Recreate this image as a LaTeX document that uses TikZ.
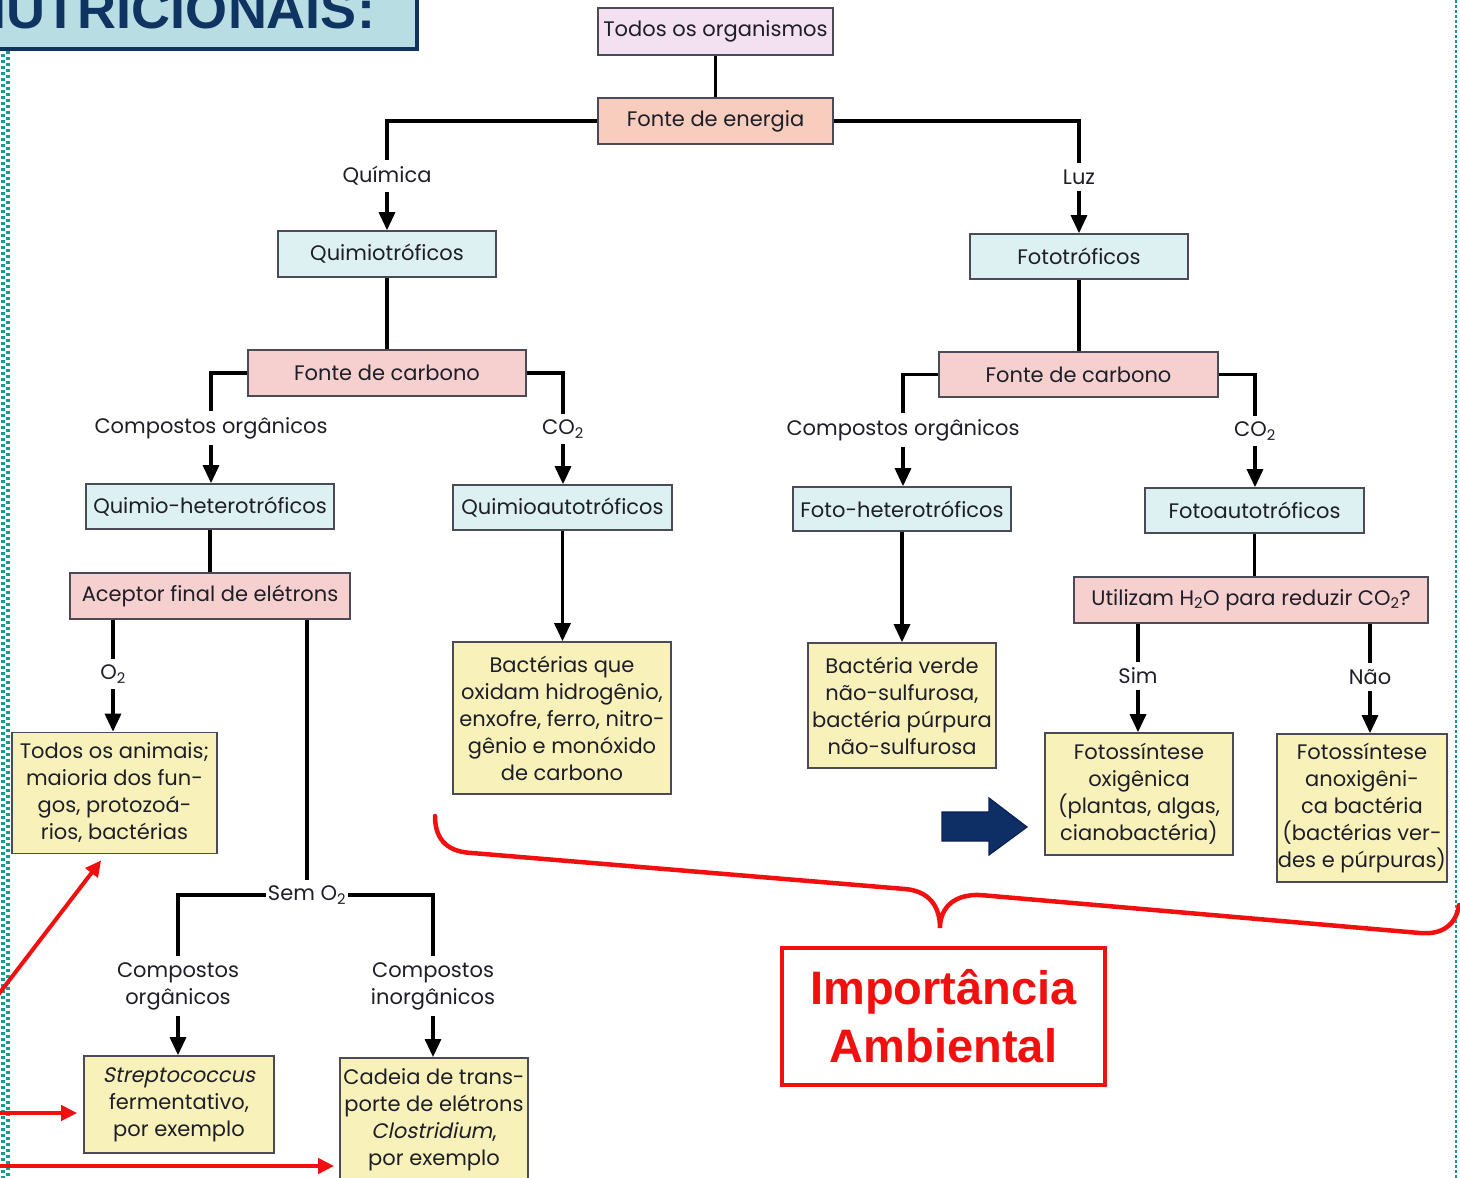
\documentclass[tikz,border=0pt]{standalone}
\usepackage{fontspec}
\setmainfont{Poppins}[AutoFakeSlant=0.2]
\newfontfamily\headfont{Liberation Sans}
\usetikzlibrary{arrows.meta,calc}

\definecolor{ink}{HTML}{1E1E28}
\definecolor{boxline}{HTML}{4A4A58}
\definecolor{lilac}{HTML}{F3E0F0}
\definecolor{salmon}{HTML}{F8CDBE}
\definecolor{pinkb}{HTML}{F6D0CF}
\definecolor{cyanb}{HTML}{DDF1F3}
\definecolor{yellowb}{HTML}{F8F2BA}
\definecolor{redline}{HTML}{F01010}
\definecolor{navy}{HTML}{0E2F66}
\definecolor{navydark}{HTML}{0A1F55}
\definecolor{titlebg}{HTML}{B8DDE2}
\definecolor{titleink}{HTML}{103462}
\definecolor{tealdot}{HTML}{1A9893}

\newcommand\diagfont{\fontsize{21}{27}\selectfont}

\begin{document}
\begin{tikzpicture}[x=1pt,y=-1pt,
  box/.style={draw=boxline, line width=1.6pt, inner sep=0pt, align=center,
              text=ink, font=\diagfont},
  lilacbox/.style={box, fill=lilac},
  salmonbox/.style={box, fill=salmon},
  pinkbox/.style={box, fill=pinkb},
  cyanbox/.style={box, fill=cyanb},
  yellowbox/.style={box, fill=yellowb},
  lab/.style={inner xsep=3pt, inner ysep=6pt, align=center, text=ink, font=\diagfont},
  conn/.style={line width=3.2pt, draw=black},
  arr/.style={conn, -{Triangle[length=18pt,width=16pt]}},
  redarr/.style={line width=4pt, draw=redline, -{Triangle[length=16pt,width=15pt]}}]

\useasboundingbox (0,0) rectangle (1460,1178);
\clip (0,0) rectangle (1460,1178);

% page borders
\draw[tealdot, line width=4pt, dash pattern=on 3pt off 3pt] (2.5,0) -- (2.5,1178);
\draw[tealdot, line width=4pt, dash pattern=on 3pt off 3pt, dash phase=3pt] (8,0) -- (8,1178);
\draw[tealdot, line width=2.5pt, dash pattern=on 3pt off 2pt] (1456,0) -- (1456,1178);

% heading
\node[draw=titleink, line width=4.5pt, fill=titlebg, outer sep=0pt, anchor=south east,
      inner xsep=42pt, inner ysep=20pt, text=titleink,
      font=\headfont\bfseries\fontsize{54}{60}\selectfont] (title) at (417,49) {NUTRICIONAIS:};

% top of the tree
\node[lilacbox, minimum width=235pt, minimum height=47pt] (todos) at (715.5,31.5) {Todos os organismos};
\node[salmonbox, minimum width=235pt, minimum height=46pt] (energia) at (715.5,121) {Fonte de energia};
\node[lab] (quimica) at (387,176) {Química};
\node[lab] (luz) at (1079,177) {Luz};

\node[cyanbox, minimum width=218pt, minimum height=46pt] (quimiot) at (387,254) {Quimiotróficos};
\node[cyanbox, minimum width=218pt, minimum height=45pt] (fotot) at (1079,256.5) {Fototróficos};

\node[pinkbox, minimum width=278pt, minimum height=46pt] (fcq) at (387,373) {Fonte de carbono};
\node[pinkbox, minimum width=279pt, minimum height=45pt] (fcf) at (1078.5,374.5) {Fonte de carbono};

\node[lab] (coq) at (211,428) {Compostos orgânicos};
\node[lab] (co2q) at (563,429) {CO\textsubscript{2}};
\node[lab] (cof) at (903,430) {Compostos orgânicos};
\node[lab] (co2f) at (1255,431) {CO\textsubscript{2}};

\node[cyanbox, minimum width=248pt, minimum height=45pt] (qhet) at (210,506.5) {Quimio-heterotróficos};
\node[cyanbox, minimum width=219pt, minimum height=45pt] (qaut) at (562.5,507.5) {Quimioautotróficos};
\node[cyanbox, minimum width=218pt, minimum height=44pt] (fhet) at (902,509) {Foto-heterotróficos};
\node[cyanbox, minimum width=219pt, minimum height=45pt] (faut) at (1254.5,510.5) {Fotoautotróficos};

\node[pinkbox, minimum width=280pt, minimum height=46pt] (aceptor) at (210,596) {Aceptor final de elétrons};
\node[pinkbox, minimum width=354pt, minimum height=46pt] (utiliz) at (1251,600) {Utilizam H\textsubscript{2}O para reduzir CO\textsubscript{2}?};

\node[lab] (o2) at (113,674) {O\textsubscript{2}};
\node[lab] (sim) at (1138,676) {Sim};
\node[lab] (nao) at (1370,677) {Não};
\node[lab, inner xsep=2pt] (semo2) at (307,895) {Sem O\textsubscript{2}};
\node[lab] (col) at (178,986) {Compostos\\orgânicos};
\node[lab] (cil) at (433,986) {Compostos\\inorgânicos};

% end boxes
\node[yellowbox, minimum width=205pt, minimum height=121pt] (animais) at (114.5,793)
  {Todos os animais;\\maioria dos fun-\\gos, protozoá-\\rios, bactérias};
\node[yellowbox, minimum width=218pt, minimum height=152pt] (bact) at (562,718)
  {Bactérias que\\oxidam hidrogênio,\\enxofre, ferro, nitro-\\gênio e monóxido\\de carbono};
\node[yellowbox, minimum width=188pt, minimum height=125pt] (verde) at (902,705.5)
  {Bactéria verde\\não-sulfurosa,\\bactéria púrpura\\não-sulfurosa};
\node[yellowbox, minimum width=188pt, minimum height=122pt] (oxig) at (1139,794)
  {Fotossíntese\\oxigênica\\(plantas, algas,\\cianobactéria)};
\node[yellowbox, minimum width=170pt, minimum height=148pt] (anox) at (1362,808)
  {Fotossíntese\\anoxigêni-\\ca bactéria\\(bactérias ver-\\des e púrpuras)};
\node[yellowbox, minimum width=190pt, minimum height=97pt] (strep) at (179,1104.5)
  {\textit{Streptococcus}\\fermentativo,\\por exemplo};
\node[yellowbox, minimum width=188pt, anchor=north, inner ysep=11pt, text depth=130pt] (cadeia) at (434,1057)
  {Cadeia de trans-\\porte de elétrons\\\textit{Clostridium},\\por exemplo};

% connectors
\draw[conn] (todos) -- (energia);
\draw[conn] (energia.west) -| (quimica.north);
\draw[arr]  (quimica.south) -- (quimiot.north);
\draw[conn] (energia.east) -| (luz.north);
\draw[arr]  (luz.south) -- (fotot.north);

\draw[conn] (quimiot) -- (fcq);
\draw[conn] (fcq.west) -| (coq.north);
\draw[arr]  (coq.south) -- (coq.south |- qhet.north);
\draw[conn] (fcq.east) -| (co2q.north);
\draw[arr]  (co2q.south) -- (co2q.south |- qaut.north);

\draw[conn] (qhet) -- (aceptor);
\draw[conn] (aceptor.south -| o2) -- (o2.north);
\draw[arr]  (o2.south) -- (o2.south |- animais.north);
\draw[conn] (aceptor.south -| semo2) -- (semo2.north);
\draw[conn] (semo2.west) -| (col.north);
\draw[conn] (semo2.east) -| (cil.north);
\draw[arr]  (col.south) -- (col.south |- strep.north);
\draw[arr]  (cil.south) -- (cil.south |- cadeia.north);
\draw[arr]  (qaut.south) -- (qaut.south |- bact.north);

\draw[conn] (fotot.south) -- (fotot.south |- fcf.north);
\draw[conn] (fcf.west) -| (cof.north);
\draw[arr]  (cof.south) -- (cof.south |- fhet.north);
\draw[conn] (fcf.east) -| (co2f.north);
\draw[arr]  (co2f.south) -- (co2f.south |- faut.north);
\draw[arr]  (fhet.south) -- (fhet.south |- verde.north);
\draw[conn] (faut.south) -- (faut.south |- utiliz.north);
\draw[conn] (utiliz.south -| sim) -- (sim.north);
\draw[arr]  (sim.south) -- (sim.south |- oxig.north);
\draw[conn] (utiliz.south -| nao) -- (nao.north);
\draw[arr]  (nao.south) -- (nao.south |- anox.north);

% highlight arrow
\draw[navydark, line width=1.2pt, fill=navy]
  (942,812) -- (989,812) -- (989,798) -- (1027,827) -- (989,855) -- (989,841) -- (942,841) -- cycle;

% brace over the autotrophs
\draw[redline, line width=4.5pt, line cap=round]
  (435,816) .. controls (435,842) and (450,852) .. (472,853) -- (905,889)
  .. controls (928,891) and (940,905) .. (940,928)
  .. controls (940,907) and (955,894) .. (980,895) -- (1420,933)
  .. controls (1442,935) and (1456,925) .. (1459,905);

\node[draw=redline, line width=4.5pt, fill=white, minimum width=323pt, minimum height=137pt,
      align=center, text=redline, font=\headfont\bfseries\fontsize{47}{58}\selectfont]
      (imp) at (943.5,1016.5) {Importância\\Ambiental};

% pointers from the left margin
\coordinate (r1) at (-2,995);
\coordinate (r2) at (-2,1113);
\coordinate (r3) at (-2,1166);
\draw[redarr] (r1) -- ([xshift=90pt,yshift=-6pt]animais.south west);
\draw[redarr, shorten >=6pt] (r2) -- (r2 -| strep.west);
\draw[redarr, shorten >=5pt] (r3) -- (r3 -| cadeia.west);
\end{tikzpicture}
\end{document}
